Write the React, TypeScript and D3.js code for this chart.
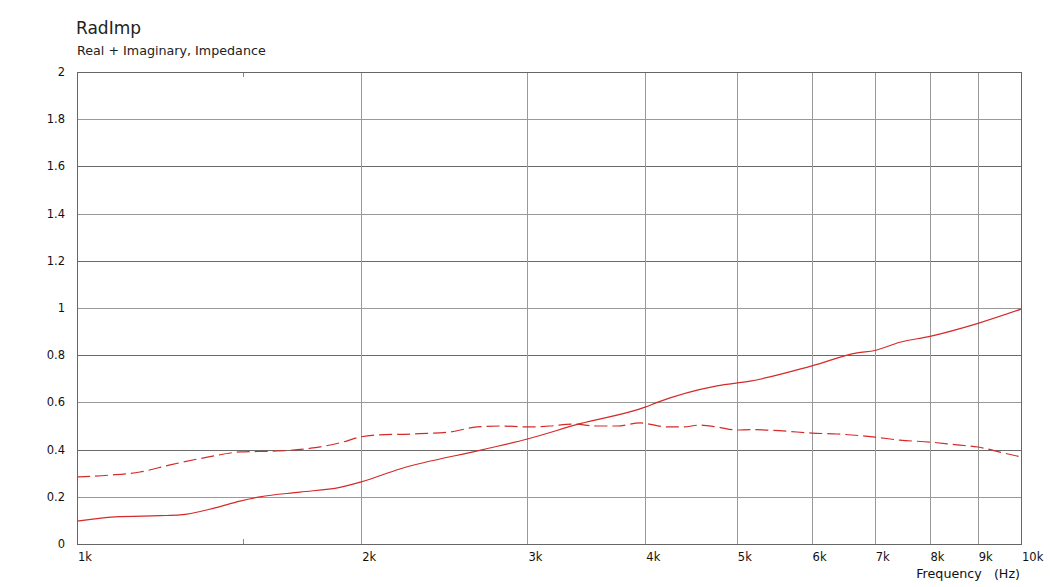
import { useEffect, useRef } from 'react';
import * as d3 from 'd3';

// frequency (Hz) / value pairs
const realFreq = [1000, 1097, 1224, 1286, 1400, 1488, 1563, 1723, 1899, 2000, 2198, 2692, 3000, 3411, 3998, 4117, 4764, 5164, 6006, 6706, 7003, 7443, 8010, 9005, 10000];
const realVals = [0.097, 0.115, 0.12, 0.123, 0.153, 0.182, 0.2, 0.22, 0.24, 0.263, 0.318, 0.4, 0.445, 0.51, 0.58, 0.6, 0.67, 0.69, 0.755, 0.81, 0.82, 0.855, 0.88, 0.935, 0.995];

const imagFreq = [1000, 1084, 1166, 1255, 1383, 1488, 1629, 1778, 1913, 1993, 2078, 2254, 2484, 2653, 2807, 3000, 3170, 3353, 3555, 3733, 3949, 4217, 4385, 4571, 4764, 5003, 5164, 5596, 6006, 6385, 7003, 7443, 8010, 8555, 9005, 9572, 10000];
const imagVals = [0.284, 0.292, 0.305, 0.335, 0.37, 0.39, 0.394, 0.407, 0.432, 0.453, 0.462, 0.466, 0.475, 0.496, 0.5, 0.496, 0.5, 0.508, 0.5, 0.5, 0.513, 0.496, 0.496, 0.504, 0.496, 0.483, 0.485, 0.479, 0.47, 0.466, 0.453, 0.44, 0.432, 0.42, 0.411, 0.386, 0.369];

const xTicks = [1000, 2000, 3000, 4000, 5000, 6000, 7000, 8000, 9000, 10000];
const xTickLabels = ['1k', '2k', '3k', '4k', '5k', '6k', '7k', '8k', '9k', '10k'];
const yTicks = [0, 0.2, 0.4, 0.6, 0.8, 1, 1.2, 1.4, 1.6, 1.8, 2];

export default function App() {
  const svgRef = useRef<SVGSVGElement>(null);

  useEffect(() => {
    if (!svgRef.current) return;
    const svg = d3.select(svgRef.current);
    svg.selectAll('*').remove();

    const margin = { top: 72, right: 29, bottom: 43, left: 77 };
    const W = 1050;
    const H = 587;
    const width = W - margin.left - margin.right;
    const height = H - margin.top - margin.bottom;
    const font = 'Verdana, "DejaVu Sans", sans-serif';

    const x = d3.scaleLog().domain([1000, 10000]).range([0, width]);
    const y = d3.scaleLinear().domain([0, 2]).range([height, 0]);

    // titles
    svg.append('text').attr('x', 76).attr('y', 34).attr('font-family', font)
      .attr('font-size', 17).attr('fill', '#222').text('RadImp');
    svg.append('text').attr('x', 77).attr('y', 55).attr('font-family', font)
      .attr('font-size', 12.7).attr('fill', '#222').text('Real + Imaginary, Impedance');

    const g = svg.append('g').attr('transform', `translate(${margin.left},${margin.top})`);

    // horizontal grid, alternating shades
    yTicks.slice(1, -1).forEach((t, i) => {
      g.append('line')
        .attr('x1', 0).attr('x2', width)
        .attr('y1', Math.round(y(t)) + 0.5).attr('y2', Math.round(y(t)) + 0.5)
        .attr('stroke', i % 2 === 0 ? '#999' : '#6a6a6a');
    });
    // vertical grid
    xTicks.slice(1, -1).forEach((t) => {
      g.append('line')
        .attr('x1', Math.round(x(t)) + 0.5).attr('x2', Math.round(x(t)) + 0.5)
        .attr('y1', 0).attr('y2', height)
        .attr('stroke', '#999');
    });
    // minor ticks at 1.5k
    [[0, 5], [height - 5, height]].forEach(([a, b]) => {
      g.append('line')
        .attr('x1', Math.round(x(1500)) + 0.5).attr('x2', Math.round(x(1500)) + 0.5)
        .attr('y1', a).attr('y2', b).attr('stroke', '#888');
    });

    // frame
    g.append('rect').attr('x', 0.5).attr('y', 0.5).attr('width', width).attr('height', height)
      .attr('fill', 'none').attr('stroke', '#666');

    // y labels
    yTicks.forEach((t) => {
      g.append('text').attr('x', -12).attr('y', y(t) + 4)
        .attr('text-anchor', 'end').attr('font-family', font).attr('font-size', 11.5)
        .attr('fill', '#111').text(String(t));
    });
    // x labels
    xTicks.forEach((t, i) => {
      g.append('text').attr('x', x(t) + 1).attr('y', height + 17)
        .attr('font-family', font).attr('font-size', 11.5)
        .attr('fill', '#111').text(xTickLabels[i]);
    });
    svg.append('text').attr('x', 1020).attr('y', 578).attr('text-anchor', 'end')
      .attr('font-family', font).attr('font-size', 12.7).attr('fill', '#111')
      .attr('xml:space', 'preserve').style('white-space', 'pre')
      .text('Frequency   (Hz)');

    const line = d3.line<[number, number]>()
      .x((d) => x(d[0]))
      .y((d) => y(d[1]))
      .curve(d3.curveMonotoneX);

    g.append('path')
      .datum(realFreq.map((f, i) => [f, realVals[i]] as [number, number]))
      .attr('fill', 'none').attr('stroke', '#d42a2a').attr('stroke-width', 1.2)
      .attr('d', line);

    g.append('path')
      .datum(imagFreq.map((f, i) => [f, imagVals[i]] as [number, number]))
      .attr('fill', 'none').attr('stroke', '#d42a2a').attr('stroke-width', 1.2)
      .attr('stroke-dasharray', '13,5')
      .attr('d', line);
  }, []);

  return (
    <svg ref={svgRef} width={1050} height={587}
      style={{ position: 'absolute', left: 0, top: 0, background: '#fff' }} />
  );
}
